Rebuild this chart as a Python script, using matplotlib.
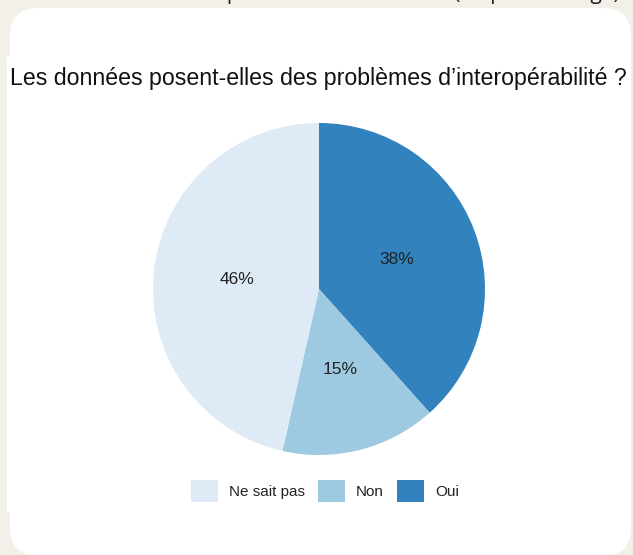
import matplotlib
matplotlib.use("Agg")
import matplotlib.pyplot as plt
from matplotlib.patches import FancyBboxPatch, Rectangle, Patch

plt.rcParams['font.family'] = ['Liberation Sans', 'DejaVu Sans']

# data
labels = ['Oui', 'Non', 'Ne sait pas']
values = [38, 15, 46]
colors = ['#3182bd', '#9ecae1', '#deebf7']
legend_order = ['Ne sait pas', 'Non', 'Oui']

title = "Les données posent-elles des problèmes d\u2019interopérabilité ?"
header = "Interopérabilité des données (en pourcentage)"

W, H = 633, 555
fig = plt.figure(figsize=(W / 100, H / 100), dpi=100)
fig.patch.set_facecolor('#f3efe9')

def fx(px):
    return px / W

def fy(py):
    return 1 - py / H

# white rounded card
card = FancyBboxPatch((fx(10), fy(556)), fx(621), (548) / H,
                      boxstyle="round,pad=0,rounding_size=0.045",
                      transform=fig.transFigure, facecolor='white',
                      edgecolor='none', mutation_aspect=W / H, zorder=-2)
fig.patches.append(card)
fig.patches.append(Rectangle((fx(7), fy(512)), fx(20), 455 / H,
                             transform=fig.transFigure, facecolor='white',
                             edgecolor='none', zorder=-2))

# clipped header text from the page above
fig.text(fx(620), fy(-1.5), header, ha='right', va='baseline', fontsize=15,
         family=['Open Sans', 'DejaVu Sans'], color='#222222')

fig.text(fx(318), fy(79), title, ha='center', va='center', fontsize=16.7,
         color='#111111')

# pie
ax = fig.add_axes([fx(153), fy(455), fx(332), 332 / H], zorder=5)
ax.patch.set_alpha(0)
wedges, _, autotexts = ax.pie(values, colors=colors, startangle=90,
                              counterclock=False, autopct='%1.0f%%',
                              pctdistance=0.5, radius=1,
                              wedgeprops=dict(linewidth=0),
                              textprops=dict(fontsize=12.5, color='#222222'))
for t, v in zip(autotexts, values):
    t.set_text(f'{v}%')
ax.set_xlim(-1, 1)
ax.set_ylim(-1, 1)
ax.set_aspect('equal')
ax.axis('off')

handles = [Patch(facecolor=colors[labels.index(l)], edgecolor='none') for l in legend_order]
fig.legend(handles, legend_order, loc='center', bbox_to_anchor=(fx(325), fy(491)),
           ncol=3, frameon=False, fontsize=11, handlelength=1.75,
           handleheight=1.75, handletextpad=0.75, columnspacing=0.85,
           labelcolor='#222222')

fig.savefig('out.png', dpi=100, facecolor=fig.get_facecolor())
